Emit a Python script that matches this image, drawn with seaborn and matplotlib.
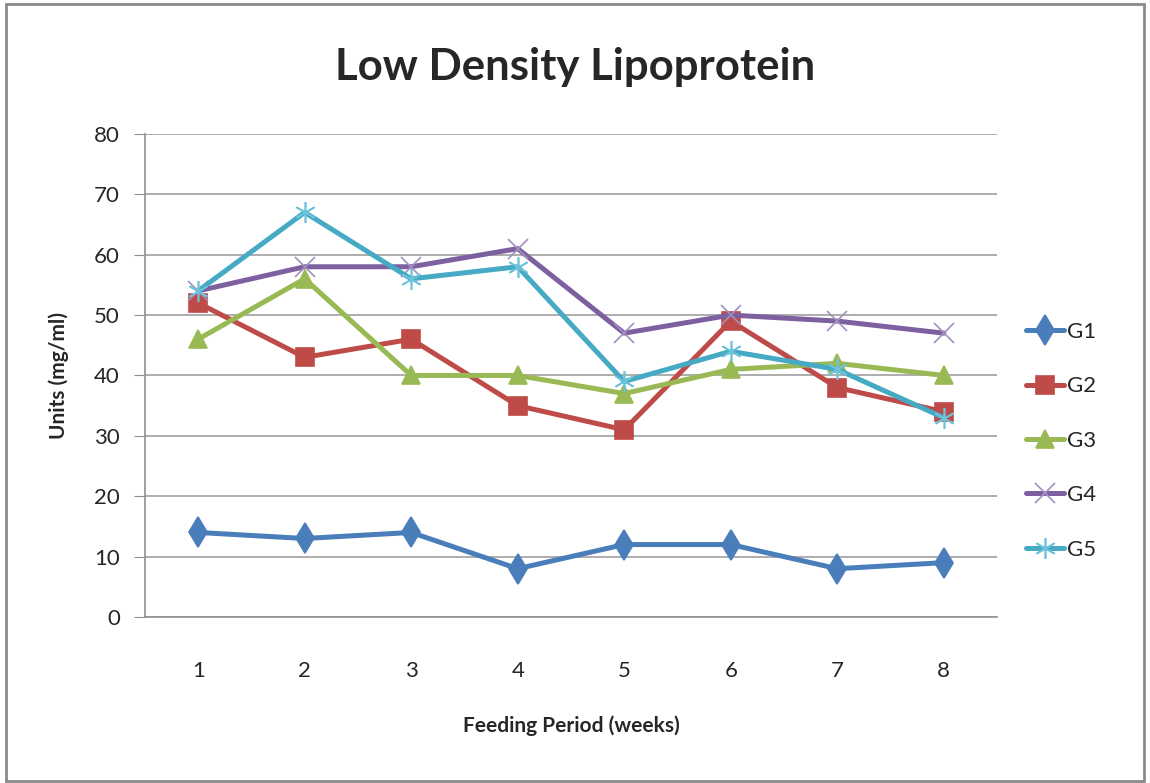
import matplotlib.pyplot as plt
import pandas as pd
import seaborn as sns
from matplotlib.patches import Rectangle

weeks = [1, 2, 3, 4, 5, 6, 7, 8]
g1 = [14, 13, 14, 8, 12, 12, 8, 9]
g2 = [52, 43, 46, 35, 31, 49, 38, 34]
g3 = [46, 56, 40, 40, 37, 41, 42, 40]
g4 = [54, 58, 58, 61, 47, 50, 49, 47]
g5 = [54, 67, 56, 58, 39, 44, 41, 33]
groups = ["G1", "G2", "G3", "G4", "G5"]

sns.set_style("white")
plt.rcParams["font.family"] = ["Lato", "DejaVu Sans"]

df = pd.DataFrame({"Week": weeks, "G1": g1, "G2": g2, "G3": g3, "G4": g4, "G5": g5})
df = df.melt(id_vars="Week", var_name="Group", value_name="Units")

cores = {"G1": "#4A7EBB", "G2": "#BE4B48", "G3": "#98B954", "G4": "#7D60A0", "G5": "#46AAC5"}
cores_marc = {"G1": "#4A7EBB", "G2": "#BE4B48", "G3": "#98B954", "G4": "#A38FC0", "G5": "#6CC3DB"}
marcadores = {"G1": "d", "G2": "s", "G3": "^", "G4": "x", "G5": (6, 2, 0)}
tamanhos = {"G1": 15, "G2": 13, "G3": 13, "G4": 14, "G5": 15}

fig = plt.figure(figsize=(11.5, 7.83), dpi=100)
ax = fig.add_axes([0.126, 0.212, 0.741, 0.617])

for g in groups:
    sub = df[df["Group"] == g]
    sns.lineplot(
        data=sub, x="Week", y="Units", label=g, color=cores[g],
        marker=marcadores[g], markersize=tamanhos[g], linewidth=3.6,
        markeredgecolor=cores_marc[g], markerfacecolor=cores_marc[g],
        markeredgewidth=1.2, ax=ax,
    )

ax.set_xlim(0.5, 8.5)
ax.set_ylim(0, 80)
ax.set_xticks(weeks)
ax.set_yticks(range(0, 81, 10))
ax.yaxis.grid(True, color="#a0a0a0", linewidth=1.2)
ax.xaxis.grid(False)
ax.set_axisbelow(True)
for s in ["top", "right"]:
    ax.spines[s].set_visible(False)
for s in ["left", "bottom"]:
    ax.spines[s].set_color("#909090")
    ax.spines[s].set_linewidth(1.2)
ax.tick_params(axis="y", left=True, length=8, color="#909090", labelsize=16, pad=10)
ax.tick_params(axis="x", bottom=False, labelsize=16, pad=28)

ax.set_xlabel("Feeding Period (weeks)", fontsize=15, fontweight="bold", labelpad=25)
ax.set_ylabel("Units (mg/ml)", fontsize=15, fontweight="bold", labelpad=18)
fig.text(0.5, 0.915, "Low Density Lipoprotein", ha="center", va="center",
         fontsize=31.5, fontweight="bold")

ax.legend(
    loc="center left", bbox_to_anchor=(0.892, 0.437), bbox_transform=fig.transFigure,
    frameon=False, fontsize=16, handlelength=1.7, labelspacing=1.55, handletextpad=0.15,
    borderpad=0, borderaxespad=0,
)

fig.patches.append(Rectangle((0.005, 0.003), 0.99, 0.992, transform=fig.transFigure,
                             fill=False, edgecolor="#8a8a8a", linewidth=2))

fig.savefig("out.png", dpi=100)
